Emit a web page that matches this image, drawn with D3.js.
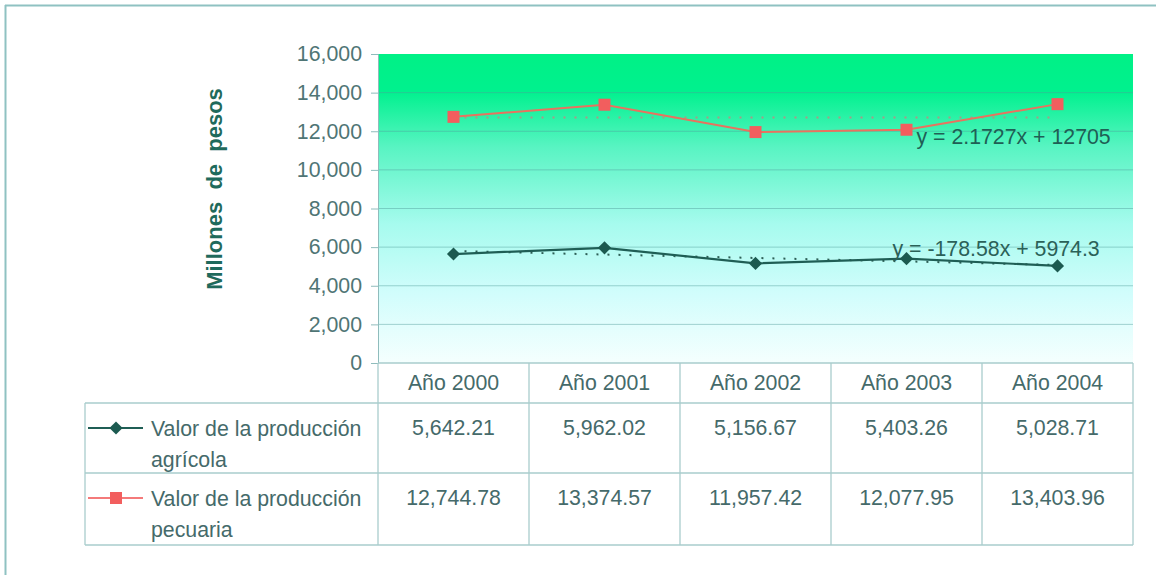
<!DOCTYPE html>
<html>
<head>
<meta charset="utf-8">
<script src="https://cdn.jsdelivr.net/npm/d3@7"></script>
<style>
  body { margin: 0; background: #fff; }
  text { font-family: "Liberation Sans", Arial, sans-serif; }
</style>
</head>
<body>
<div id="chart"></div>
<script>
// data
const years = ["Año 2000", "Año 2001", "Año 2002", "Año 2003", "Año 2004"];
const agricola = [5642.21, 5962.02, 5156.67, 5403.26, 5028.71];
const pecuaria = [12744.78, 13374.57, 11957.42, 12077.95, 13403.96];
const agricolaLabel = ["Valor de la producción", "agrícola"];
const pecuariaLabel = ["Valor de la producción", "pecuaria"];
const yTicks = [0, 2000, 4000, 6000, 8000, 10000, 12000, 14000, 16000];
// linear trend lines (Excel style: x = 1..5)
const trendAgr = {slope: -178.58, icpt: 5974.3, label: "y = -178.58x + 5974.3"};
const trendPec = {slope: 2.1727, icpt: 12705, label: "y = 2.1727x + 12705"};

const W = 1156, H = 575;
const plot = {left: 378, right: 1133, top: 54, bottom: 363};
const tbl = {left: 85, rowH: [40, 70, 72]};
const fs = 21.3;

const svg = d3.select("#chart").append("svg")
  .attr("width", W).attr("height", H);

// outer frame (only top and left edges visible)
svg.append("line").attr("x1", 5).attr("x2", W).attr("y1", 5.5).attr("y2", 5.5)
  .attr("stroke", "#8fc2c2").attr("stroke-width", 2);
svg.append("line").attr("x1", 5.5).attr("x2", 5.5).attr("y1", 5).attr("y2", H)
  .attr("stroke", "#8fc2c2").attr("stroke-width", 2);

const x = d3.scaleBand().domain(years).range([plot.left, plot.right]);
const y = d3.scaleLinear().domain([0, 16000]).range([plot.bottom, plot.top]);
const cx = d => x(d) + x.bandwidth() / 2;

// background gradient
const grad = svg.append("defs").append("linearGradient")
  .attr("id", "bg").attr("x1", 0).attr("x2", 0).attr("y1", 0).attr("y2", 1);
[[0, "#00f186"], [0.12, "#00f18e"], [0.3, "#58f4c2"], [0.55, "#a6fbee"],
 [0.78, "#d2fdfc"], [1, "#f5fffe"]].forEach(s =>
  grad.append("stop").attr("offset", s[0]).attr("stop-color", s[1]));

svg.append("rect")
  .attr("x", plot.left).attr("y", plot.top)
  .attr("width", plot.right - plot.left).attr("height", plot.bottom - plot.top)
  .attr("fill", "url(#bg)");

// grid lines
svg.append("g").selectAll("line")
  .data(yTicks.filter(d => d > 0 && d < 16000))
  .join("line")
    .attr("x1", plot.left).attr("x2", plot.right)
    .attr("y1", d => y(d)).attr("y2", d => y(d))
    .attr("stroke", "#4f9c98").attr("stroke-opacity", 0.45).attr("stroke-width", 1);

// y axis
const yAxis = svg.append("g")
  .attr("transform", `translate(${plot.left},0)`)
  .call(d3.axisLeft(y).tickValues(yTicks).tickFormat(d3.format(",")).tickSizeOuter(0).tickSize(7).tickPadding(9));
yAxis.select(".domain").attr("stroke", "#8fbcbc");
yAxis.selectAll(".tick line").attr("stroke", "#8fbcbc");
yAxis.selectAll("text").attr("fill", "#4f7575").attr("font-size", fs)
  .attr("font-family", "Liberation Sans, Arial, sans-serif");

// y title
svg.append("text")
  .attr("transform", `translate(222,189) rotate(-90)`)
  .attr("text-anchor", "middle")
  .style("white-space", "pre")
  .attr("font-size", 22).attr("font-weight", "bold").attr("fill", "#1f6a5c")
  .text("Millones  de  pesos");

// trend lines
function trendLine(t, color, dash) {
  const pts = [1, 5].map(i => [cx(years[i - 1]), y(t.slope * i + t.icpt)]);
  svg.append("path")
    .attr("d", d3.line()(pts))
    .attr("fill", "none").attr("stroke", color).attr("stroke-width", 2)
    .attr("stroke-dasharray", dash);
}
trendLine(trendPec, "#a89a86", "2,9");
trendLine(trendAgr, "#2c5e55", "2,9");

// series lines
const line = d3.line().x((d, i) => cx(years[i])).y(d => y(d));
svg.append("path").datum(pecuaria).attr("d", line)
  .attr("fill", "none").attr("stroke", "#e8735f").attr("stroke-width", 2);
svg.append("path").datum(agricola).attr("d", line)
  .attr("fill", "none").attr("stroke", "#1f5e55").attr("stroke-width", 2.2);

// markers
svg.append("g").selectAll("rect").data(pecuaria).join("rect")
  .attr("x", (d, i) => cx(years[i]) - 6).attr("y", d => y(d) - 6)
  .attr("width", 12).attr("height", 12).attr("fill", "#f25e5e");
const diamond = d3.symbol().type(d3.symbolDiamond2).size(110);
svg.append("g").selectAll("path").data(agricola).join("path")
  .attr("d", diamond)
  .attr("transform", (d, i) => `translate(${cx(years[i])},${y(d)})`)
  .attr("fill", "#1c5a50");

// trend equations
svg.append("text")
  .attr("x", cx(years[3]) + 10).attr("y", y(trendPec.slope * 4 + trendPec.icpt) + 27)
  .attr("font-size", fs).attr("fill", "#1f5f55").text(trendPec.label);
svg.append("text")
  .attr("x", cx(years[3]) - 14).attr("y", y(trendAgr.slope * 4 + trendAgr.icpt) - 5)
  .attr("font-size", fs).attr("fill", "#2b6158").text(trendAgr.label);

// data table
const tY0 = plot.bottom, tY1 = tY0 + tbl.rowH[0], tY2 = tY1 + tbl.rowH[1], tY3 = tY2 + tbl.rowH[2];
const tg = svg.append("g").attr("stroke", "#a9cdcd").attr("stroke-width", 1.3);
tg.append("line").attr("x1", plot.left).attr("x2", plot.right).attr("y1", tY0).attr("y2", tY0);
[tY1, tY2, tY3].forEach(yy =>
  tg.append("line").attr("x1", tbl.left).attr("x2", plot.right).attr("y1", yy).attr("y2", yy));
tg.append("line").attr("x1", tbl.left).attr("x2", tbl.left).attr("y1", tY1).attr("y2", tY3);
years.forEach(yr =>
  tg.append("line").attr("x1", x(yr)).attr("x2", x(yr)).attr("y1", tY0).attr("y2", tY3));
tg.append("line").attr("x1", plot.right).attr("x2", plot.right).attr("y1", tY0).attr("y2", tY3);

const tc = "#456a6a";
svg.append("g").selectAll("text").data(years).join("text")
  .attr("x", d => cx(d)).attr("y", tY0 + 27)
  .attr("text-anchor", "middle").attr("font-size", fs).attr("fill", tc)
  .text(d => d);

const fmt = d3.format(",.2f");
[[agricola, tY1], [pecuaria, tY2]].forEach(([vals, top]) => {
  svg.append("g").selectAll("text").data(vals).join("text")
    .attr("x", (d, i) => cx(years[i])).attr("y", top + 32)
    .attr("text-anchor", "middle").attr("font-size", fs).attr("fill", tc)
    .text(d => fmt(d));
});

// legend keys in the table
function legendRow(top, lbl, color, kind) {
  const ly = top + 25;
  svg.append("line").attr("x1", 88).attr("x2", 143).attr("y1", ly).attr("y2", ly)
    .attr("stroke", color).attr("stroke-width", 2);
  if (kind === "square") {
    svg.append("rect").attr("x", 110).attr("y", ly - 6).attr("width", 12).attr("height", 12)
      .attr("fill", "#f25e5e");
  } else {
    svg.append("path").attr("d", diamond).attr("transform", `translate(116,${ly})`)
      .attr("fill", "#1c5a50");
  }
  lbl.forEach((t, i) =>
    svg.append("text").attr("x", 151).attr("y", top + 33 + i * 31)
      .attr("font-size", fs).attr("fill", tc).text(t));
}
legendRow(tY1, agricolaLabel, "#1f5e55", "diamond");
legendRow(tY2, pecuariaLabel, "#f47a7a", "square");
</script>
</body>
</html>
